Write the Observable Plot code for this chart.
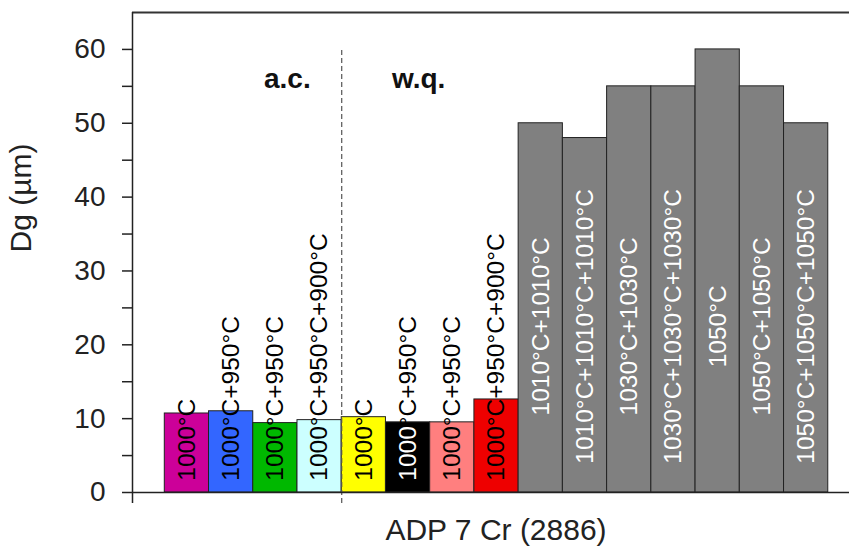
<!DOCTYPE html>
<html>
<head>
<meta charset="utf-8">
<script src="https://cdn.jsdelivr.net/npm/d3@7"></script>
<script src="https://cdn.jsdelivr.net/npm/@observablehq/plot@0.6"></script>
<style>
  html, body { margin: 0; padding: 0; background: #fff; }
</style>
</head>
<body>
<div id="chart"></div>
<script>
// ---- data ----
const labels = [
  "1000°C", "1000°C+950°C", "1000°C+950°C", "1000°C+950°C+900°C",
  "1000°C", "1000°C+950°C", "1000°C+950°C", "1000°C+950°C+900°C",
  "1010°C+1010°C", "1010°C+1010°C+1010°C", "1030°C+1030°C", "1030°C+1030°C+1030°C",
  "1050°C", "1050°C+1050°C", "1050°C+1050°C+1050°C"
];
const values = [10.7, 11.0, 9.4, 9.8, 10.2, 9.5, 9.5, 12.6, 50, 48, 55, 55, 60, 55, 50];
const colors = [
  "#CC0099", "#3366FF", "#00B800", "#CCFFFF",
  "#FFFF00", "#000000", "#FF7F7F", "#EE0000",
  "#808080", "#808080", "#808080", "#808080", "#808080", "#808080", "#808080"
];
const textColors = [
  "#000", "#000", "#000", "#000", "#000", "#fff", "#000", "#000",
  "#fff", "#fff", "#fff", "#fff", "#fff", "#fff", "#fff"
];
const groupLabels = ["a.c.", "w.q."];
const majorTicks = [0, 10, 20, 30, 40, 50, 60];
const minorTicks = [5, 15, 25, 35, 45, 55];
const yTitle = "Dg (µm)";
const xTitle = "ADP 7 Cr (2886)";

const bars = labels.map((label, i) => ({
  i, label, v: values[i], color: colors[i], tc: textColors[i], grey: i >= 8
}));
const xDomain = [-0.73, 15.48];
const colored = bars.filter(d => !d.grey);
const onDark = colored.filter(d => d.tc === "#fff");

const labelOpts = { x: d => d.i + 0.5, y: 1.6, rotate: -90, textAnchor: "start", fontSize: 24.5 };

const chart = Plot.plot({
  width: 849,
  height: 548,
  marginLeft: 132,
  marginRight: 0,
  marginTop: 12,
  marginBottom: 56,
  x: { domain: xDomain, axis: null },
  y: { domain: [0, 65], axis: null },
  color: { type: "identity" },
  style: { fontFamily: "'Liberation Sans', Arial, sans-serif", background: "#fff", color: "#222" },
  marks: [
    Plot.rect(bars, {
      x1: "i", x2: d => d.i + 1, y1: 0, y2: "v",
      fill: "color", stroke: "#222", strokeWidth: 1
    }),
    // labels of the coloured bars: black, start at the bottom of the bar
    Plot.text(colored, { ...labelOpts, text: "label", fill: "#000" }),
    // on the black bar the part of the label inside the bar is white
    Plot.text(onDark, { ...labelOpts, text: d => d.label.slice(0, d.label.indexOf("°")), fill: "#fff" }),
    Plot.text(bars.filter(d => d.grey), {
      x: d => d.i + 0.5, y: 22.5, text: "label", rotate: -90,
      textAnchor: "middle", fill: "tc", fontSize: 24.5
    }),
    Plot.ruleX([4], { y1: -1.5, y2: 60, stroke: "#555", strokeWidth: 1.2, strokeDasharray: "5,3" }),
    Plot.text(groupLabels, {
      x: (d, i) => [2.77, 5.74][i], y: 56.0, text: d => d,
      fontSize: 28, fontWeight: "bold", fill: "#111"
    }),
    Plot.ruleY([0], { stroke: "#222", strokeWidth: 1.5 }),
    Plot.ruleY([65], { stroke: "#333", strokeWidth: 2 }),
    Plot.ruleX([xDomain[0]], { y1: -1.5, y2: 65, stroke: "#222", strokeWidth: 1.5 }),
    Plot.axisY(majorTicks, { tickSize: 10, tickPadding: 17, fontSize: 28, label: null, stroke: "#222", strokeWidth: 1.5 }),
    Plot.axisY(minorTicks, { tickSize: 10, tickFormat: () => "", label: null, stroke: "#222", strokeWidth: 1.5 }),
    Plot.text([yTitle], { frameAnchor: "left", dx: -111, rotate: -90, fontSize: 30, fill: "#222" }),
    Plot.text([xTitle], { frameAnchor: "bottom", dx: 5, dy: 47, fontSize: 30, fill: "#222" })
  ]
});
document.getElementById("chart").appendChild(chart);
</script>
</body>
</html>
